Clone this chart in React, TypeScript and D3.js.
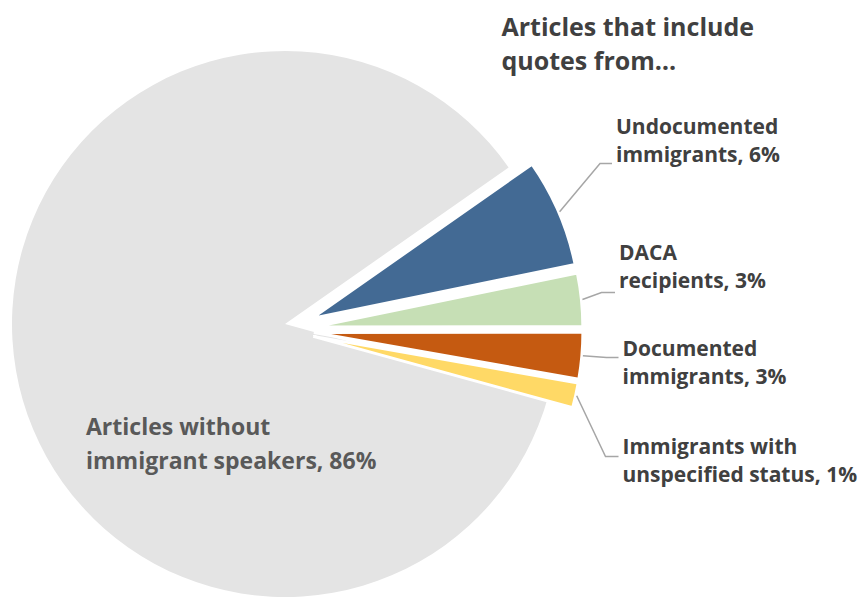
import React from "react";
import * as d3 from "d3";

const categories = [
  "Undocumented immigrants",
  "DACA recipients",
  "Documented immigrants",
  "Immigrants with unspecified status",
  "Articles without immigrant speakers",
];
const values = [6.5, 3.2, 2.8, 1.5, 86.0];
const labelLines = [
  ["Undocumented", "immigrants, 6%"],
  ["DACA", "recipients, 3%"],
  ["Documented", "immigrants, 3%"],
  ["Immigrants with", "unspecified status, 1%"],
  ["Articles without", "immigrant speakers, 86%"],
];
const titleLines = ["Articles that include", "quotes from\u2026"];
const colors = ["#436A94", "#C6DFB5", "#C55A11", "#FFD966", "#E4E4E4"];

const W = 867;
const H = 599;
const FONT = "'Open Sans', 'DejaVu Sans', sans-serif";

export default function App() {
  const gray = { cx: 285, cy: 324, r: 273 };
  const group = { cx: 285, cy: 330, r: 269, explode: 29 };
  const start = (55.0 * Math.PI) / 180;

  const pie = d3
    .pie<number>()
    .sort(null)
    .value((d) => d)
    .startAngle(start)
    .endAngle(start + 2 * Math.PI);
  const arcs = pie(values);

  const grayArc = d3.arc<d3.PieArcDatum<number>>().innerRadius(0).outerRadius(gray.r);
  const sliceArc = d3.arc<d3.PieArcDatum<number>>().innerRadius(0).outerRadius(group.r);

  // label layout (elbow/end of leader, text anchor)
  const labelLayout = [
    { elbow: [600, 163.5], end: [612, 163.5], tx: 616, ty: 134 },
    { elbow: [601.5, 292.5], end: [615, 292.5], tx: 619, ty: 259.5 },
    { elbow: [606.5, 357.5], end: [618.5, 357.5], tx: 622.5, ty: 356 },
    { elbow: [605.5, 456.5], end: [618.5, 456.5], tx: 622.5, ty: 453.5 },
  ];

  const centers = arcs.map((a, i) => {
    if (i === arcs.length - 1) return [gray.cx, gray.cy];
    const mid = (a.startAngle + a.endAngle) / 2;
    return [group.cx + group.explode * Math.sin(mid), group.cy - group.explode * Math.cos(mid)];
  });

  return (
    <svg
      width={W}
      height={H}
      style={{ position: "absolute", left: 0, top: 0, background: "#fff" }}
      fontFamily={FONT}
    >
      {arcs.map((a, i) =>
        i === arcs.length - 1 ? (
          <path
            key={categories[i]}
            d={grayArc(a) || ""}
            transform={`translate(${centers[i][0]},${centers[i][1]})`}
            fill={colors[i]}
          />
        ) : null
      )}
      {arcs.map((a, i) =>
        i < arcs.length - 1 ? (
          <path
            key={categories[i]}
            d={sliceArc(a) || ""}
            transform={`translate(${centers[i][0]},${centers[i][1]})`}
            fill={colors[i]}
            stroke="#fff"
            strokeWidth={3}
            strokeLinejoin="miter"
          />
        ) : null
      )}
      {arcs.slice(0, 4).map((a, i) => {
        const mid = (a.startAngle + a.endAngle) / 2;
        const r = group.r + 1;
        const x0 = centers[i][0] + r * Math.sin(mid);
        const y0 = centers[i][1] - r * Math.cos(mid);
        const L = labelLayout[i];
        return (
          <polyline
            key={"l" + i}
            points={`${x0},${y0} ${L.elbow[0]},${L.elbow[1]} ${L.end[0]},${L.end[1]}`}
            fill="none"
            stroke="#A6A6A6"
            strokeWidth={1.5}
          />
        );
      })}
      {labelLayout.map((L, i) => (
        <text key={"t" + i} x={L.tx} y={L.ty} fontSize={21} fontWeight={700} fill="#404040">
          {labelLines[i].map((s, j) => (
            <tspan key={j} x={L.tx} y={L.ty + j * 28.3}>
              {s}
            </tspan>
          ))}
        </text>
      ))}
      <text x={86} y={435} fontSize={23} fontWeight={700} fill="#595959">
        {labelLines[4].map((s, j) => (
          <tspan key={j} x={86} y={435 + j * 34.3}>
            {s}
          </tspan>
        ))}
      </text>
      <text x={501.5} y={35.7} fontSize={25} fontWeight={700} fill="#404040">
        {titleLines.map((s, j) => (
          <tspan key={j} x={501.5} y={35.7 + j * 34.3}>
            {s}
          </tspan>
        ))}
      </text>
    </svg>
  );
}
